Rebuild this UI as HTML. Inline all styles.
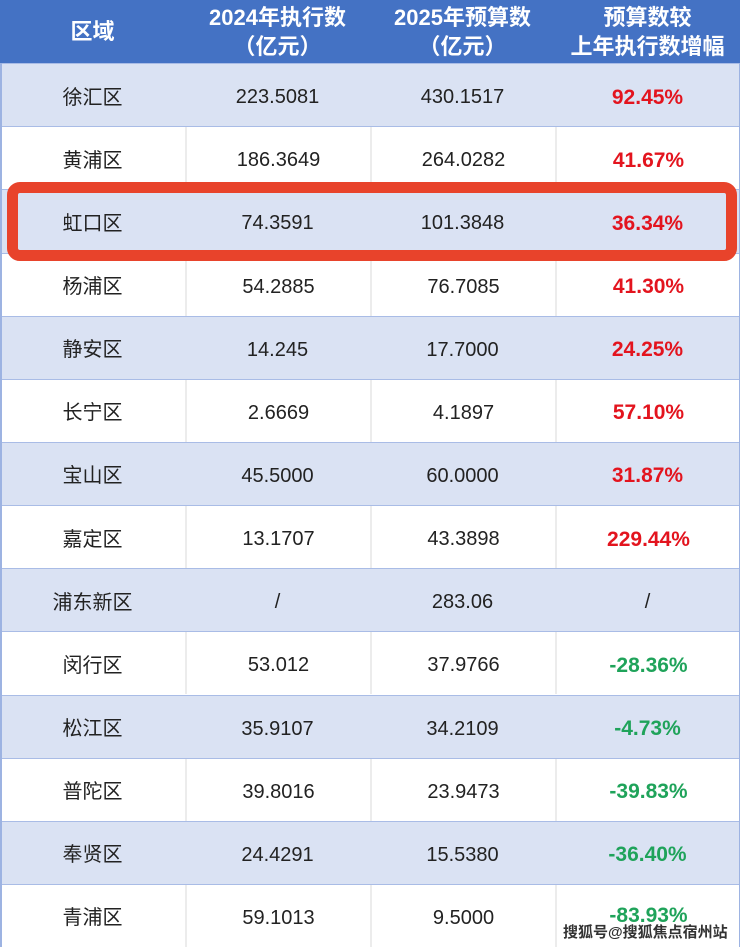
<!DOCTYPE html>
<html><head><meta charset="utf-8"><style>
html,body{margin:0;padding:0;}
body{width:740px;height:947px;position:relative;overflow:hidden;background:#fff;font-family:"Liberation Sans","Noto Sans CJK SC",sans-serif;}
.hdr{position:absolute;left:0;top:0;width:740px;height:63px;background:#4472C4;}
.hc{position:absolute;top:0;width:185px;height:63px;color:#fff;font-weight:bold;font-size:22px;text-align:center;}
.hc .l1{position:absolute;left:0;right:0;top:4px;line-height:28px;}
.hc .l2{position:absolute;left:0;right:0;top:33px;line-height:28px;}
.row{position:absolute;left:0;width:740px;height:63.13px;border-top:1.5px solid #A9BCE6;box-sizing:border-box;}
.row.l{background:#DAE2F3;}
.row.w{background:#fff;}
.c{position:absolute;top:0;width:185px;height:100%;display:flex;align-items:center;justify-content:center;font-size:20px;color:#222;box-sizing:border-box;}
.c + .c{padding-top:5px;}
.w .c + .c{border-left:2px solid #ECECEC;}
.r{color:#E3141E;font-weight:bold;font-size:21px;}
.g{color:#1FA35A;font-weight:bold;font-size:21px;}
.edge{position:absolute;top:63px;width:1.5px;height:884px;background:#9DB3E2;}
.box{position:absolute;left:7px;top:182px;width:730px;height:79px;border:11px solid #E8432B;border-radius:13px;box-sizing:border-box;}
.wm{position:absolute;left:563px;top:921px;font-size:15px;font-weight:bold;color:#333;white-space:nowrap;text-shadow:1px 0 #fff,-1px 0 #fff,0 1px #fff,0 -1px #fff,1px 1px #fff,-1px -1px #fff,1px -1px #fff,-1px 1px #fff;font-family:"Liberation Sans","Noto Sans CJK SC",sans-serif;}
</style></head><body>
<div class="hdr">
  <div class="hc" style="left:0"><div class="l1" style="top:18px">区域</div></div>
  <div class="hc" style="left:185px"><div class="l1">2024年执行数</div><div class="l2">（亿元）</div></div>
  <div class="hc" style="left:370px"><div class="l1">2025年预算数</div><div class="l2">（亿元）</div></div>
  <div class="hc" style="left:555px"><div class="l1">预算数较</div><div class="l2">上年执行数增幅</div></div>
</div>

<div class="row l" style="top:63.1px"><div class="c" style="left:0">徐汇区</div><div class="c" style="left:185px">223.5081</div><div class="c" style="left:370px">430.1517</div><div class="c" style="left:555px"><span class="r">92.45%</span></div></div>
<div class="row w" style="top:126.3px"><div class="c" style="left:0">黄浦区</div><div class="c" style="left:185px">186.3649</div><div class="c" style="left:370px">264.0282</div><div class="c" style="left:555px"><span class="r">41.67%</span></div></div>
<div class="row l" style="top:189.4px"><div class="c" style="left:0">虹口区</div><div class="c" style="left:185px">74.3591</div><div class="c" style="left:370px">101.3848</div><div class="c" style="left:555px"><span class="r">36.34%</span></div></div>
<div class="row w" style="top:252.5px"><div class="c" style="left:0">杨浦区</div><div class="c" style="left:185px">54.2885</div><div class="c" style="left:370px">76.7085</div><div class="c" style="left:555px"><span class="r">41.30%</span></div></div>
<div class="row l" style="top:315.7px"><div class="c" style="left:0">静安区</div><div class="c" style="left:185px">14.245</div><div class="c" style="left:370px">17.7000</div><div class="c" style="left:555px"><span class="r">24.25%</span></div></div>
<div class="row w" style="top:378.8px"><div class="c" style="left:0">长宁区</div><div class="c" style="left:185px">2.6669</div><div class="c" style="left:370px">4.1897</div><div class="c" style="left:555px"><span class="r">57.10%</span></div></div>
<div class="row l" style="top:441.9px"><div class="c" style="left:0">宝山区</div><div class="c" style="left:185px">45.5000</div><div class="c" style="left:370px">60.0000</div><div class="c" style="left:555px"><span class="r">31.87%</span></div></div>
<div class="row w" style="top:505.1px"><div class="c" style="left:0">嘉定区</div><div class="c" style="left:185px">13.1707</div><div class="c" style="left:370px">43.3898</div><div class="c" style="left:555px"><span class="r">229.44%</span></div></div>
<div class="row l" style="top:568.2px"><div class="c" style="left:0">浦东新区</div><div class="c" style="left:185px">/</div><div class="c" style="left:370px">283.06</div><div class="c" style="left:555px">/</div></div>
<div class="row w" style="top:631.3px"><div class="c" style="left:0">闵行区</div><div class="c" style="left:185px">53.012</div><div class="c" style="left:370px">37.9766</div><div class="c" style="left:555px"><span class="g">-28.36%</span></div></div>
<div class="row l" style="top:694.5px"><div class="c" style="left:0">松江区</div><div class="c" style="left:185px">35.9107</div><div class="c" style="left:370px">34.2109</div><div class="c" style="left:555px"><span class="g">-4.73%</span></div></div>
<div class="row w" style="top:757.6px"><div class="c" style="left:0">普陀区</div><div class="c" style="left:185px">39.8016</div><div class="c" style="left:370px">23.9473</div><div class="c" style="left:555px"><span class="g">-39.83%</span></div></div>
<div class="row l" style="top:820.7px"><div class="c" style="left:0">奉贤区</div><div class="c" style="left:185px">24.4291</div><div class="c" style="left:370px">15.5380</div><div class="c" style="left:555px"><span class="g">-36.40%</span></div></div>
<div class="row w" style="top:883.9px"><div class="c" style="left:0">青浦区</div><div class="c" style="left:185px">59.1013</div><div class="c" style="left:370px">9.5000</div><div class="c" style="left:555px"><span class="g" style="position:relative;top:-2px">-83.93%</span></div></div>

<div class="edge" style="left:0"></div>
<div class="edge" style="left:738.5px"></div>
<div class="box"></div>
<div class="wm">搜狐号@搜狐焦点宿州站</div>
</body></html>
